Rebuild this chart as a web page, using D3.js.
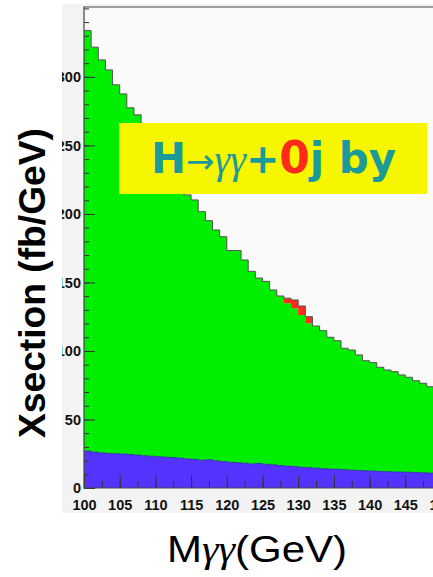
<!DOCTYPE html>
<html>
<head>
<meta charset="utf-8">
<script src="https://cdn.jsdelivr.net/npm/d3@7"></script>
<style>
  html, body { margin: 0; padding: 0; background: #fff; }
  svg { display: block; }
</style>
</head>
<body>
<div id="chart-container"></div>
<script>
// bin lower edges (GeV), 1 GeV bins
const massBins = [100, 101, 102, 103, 104, 105, 106, 107, 108, 109,
  110, 111, 112, 113, 114, 115, 116, 117, 118, 119,
  120, 121, 122, 123, 124, 125, 126, 127, 128, 129,
  130, 131, 132, 133, 134, 135, 136, 137, 138, 139,
  140, 141, 142, 143, 144, 145, 146, 147, 148, 149];

// green: total background (fb/GeV)
const bkgTotal = [333.8, 321.7, 312.4, 305.1, 294.2, 287.6, 277.4, 272.3, 262, 254,
  247, 238, 229, 221, 213.9, 210.2, 201.7, 195.1, 188.3, 183.4,
  173.3, 173.3, 166.4, 158.1, 153.2, 150.8, 144.5, 140.1, 134.8, 131.1,
  126.3, 120.2, 118.2, 114.8, 110, 107.5, 102, 100.7, 97.1, 92.9,
  91.5, 88.1, 86.1, 84.9, 82.5, 80.8, 78.3, 76.4, 73.9, 72.5];

// blue: lower background component
const bkgBlue = [27.0, 26.2, 25.6, 25.2, 25.0, 24.8, 24.5, 24.0, 23.5, 23.2,
  22.8, 22.5, 22.2, 21.8, 21.2, 20.9, 20.3, 20.6, 19.8, 19.3,
  18.8, 18.5, 18.1, 17.6, 17.8, 17.3, 16.9, 16.4, 16.0, 15.6,
  15.1, 14.8, 14.5, 14.1, 13.8, 13.6, 13.3, 13.0, 12.7, 12.5,
  12.4, 12.1, 11.9, 11.7, 11.6, 11.5, 11.3, 11.1, 10.9, 10.7];

// red: signal on top of background
const signal = [0, 0, 0, 0, 0, 0, 0, 0, 0, 0,
  0, 0, 0, 0, 0, 0, 0, 0, 0, 0,
  0, 0, 0, 0, 0, 0, 0, 0, 3.7, 6.1,
  6.5, 4.8, 0, 0, 0, 0, 0, 0, 0, 0,
  0, 0, 0, 0, 0, 0, 0, 0, 0, 0];

const xTickValues = [100, 105, 110, 115, 120, 125, 130, 135, 140, 145, 150];
const xTickLabels = ["100", "105", "110", "115", "120", "125", "130", "135", "140", "145", "150"];
const yTickValues = [0, 50, 100, 150, 200, 250, 300];
const yTickLabels = ["0", "50", "100", "150", "200", "250", "300"];

const W = 433, H = 577;
const plot = { left: 84, right: 441, top: 7, bottom: 488 };

const x = d3.scaleLinear().domain([100, 150]).range([plot.left, plot.right]);
const y = d3.scaleLinear().domain([0, 351]).range([plot.bottom, plot.top]);

const svg = d3.select("#chart-container")
  .append("svg")
  .attr("width", W)
  .attr("height", H)
  .style("font-family", "'Liberation Sans', Arial, sans-serif");

const defs = svg.append("defs");
defs.append("clipPath").attr("id", "plotClip")
  .append("rect")
  .attr("x", plot.left).attr("y", plot.top)
  .attr("width", plot.right - plot.left).attr("height", plot.bottom - plot.top);
defs.append("clipPath").attr("id", "labelClip")
  .append("rect")
  .attr("x", 62).attr("y", 0)
  .attr("width", W).attr("height", H);

// canvas background
svg.append("rect")
  .attr("x", 62).attr("y", 4)
  .attr("width", W - 62).attr("height", 509)
  .attr("fill", "#f3f3f3");
svg.append("rect")
  .attr("x", plot.left).attr("y", plot.top)
  .attr("width", plot.right - plot.left).attr("height", plot.bottom - plot.top)
  .attr("fill", "#fafafa");

// step points: one per bin plus closing edge at 150
const pts = massBins.map((m, i) => ({
  m: m,
  green: bkgTotal[i],
  total: bkgTotal[i] + signal[i],
  blue: bkgBlue[i]
}));
const last = pts[pts.length - 1];
pts.push({ m: 150, green: last.green, total: last.total, blue: last.blue });

const hist = svg.append("g").attr("clip-path", "url(#plotClip)");

hist.append("path")
  .datum(pts)
  .attr("fill", "#00ee00")
  .attr("d", d3.area().curve(d3.curveStepAfter)
    .x(d => x(d.m)).y0(y(0)).y1(d => y(d.green)));

hist.append("path")
  .datum(pts)
  .attr("fill", "#ff2a1a")
  .attr("d", d3.area().curve(d3.curveStepAfter)
    .x(d => x(d.m)).y0(d => y(d.green)).y1(d => y(d.total)));

hist.append("path")
  .datum(pts)
  .attr("fill", "none")
  .attr("stroke", "#555")
  .attr("stroke-width", 1)
  .attr("d", d3.line().curve(d3.curveStepAfter)
    .x(d => x(d.m)).y(d => y(d.total)));

hist.append("path")
  .datum(pts)
  .attr("fill", "#5533ff")
  .attr("d", d3.area().curve(d3.curveStepAfter)
    .x(d => x(d.m)).y0(y(0)).y1(d => y(d.blue)));

hist.append("path")
  .datum(pts)
  .attr("fill", "none")
  .attr("stroke", "#3a2bb0")
  .attr("stroke-width", 0.8)
  .attr("d", d3.line().curve(d3.curveStepAfter)
    .x(d => x(d.m)).y(d => y(d.blue)));

// axes
const yWrap = svg.append("g").attr("clip-path", "url(#labelClip)");

const yMinor = yWrap.append("g")
  .attr("transform", `translate(${plot.left},0)`)
  .call(d3.axisLeft(y).tickValues(d3.range(0, 351, 10)).tickSize(-5).tickFormat(""));

const yAxis = yWrap.append("g")
  .attr("transform", `translate(${plot.left},0)`)
  .call(d3.axisLeft(y).tickValues(yTickValues).tickSize(-11).tickPadding(3)
    .tickFormat((d, i) => yTickLabels[i]));

const xMinor = svg.append("g")
  .attr("transform", `translate(0,${plot.bottom})`)
  .call(d3.axisBottom(x).tickValues(d3.range(100, 150.1, 2.5)).tickSize(-7).tickFormat(""));

const xAxis = svg.append("g")
  .attr("transform", `translate(0,${plot.bottom})`)
  .call(d3.axisBottom(x).tickValues(xTickValues).tickSize(-13).tickPadding(12)
    .tickFormat((d, i) => xTickLabels[i]));

svg.selectAll(".domain").remove();
svg.selectAll(".tick line").attr("stroke", "#333");
svg.selectAll(".tick text")
  .attr("fill", "#111")
  .style("font-size", "14.5px")
  .style("font-weight", "bold")
  .style("font-family", "'Liberation Sans', Arial, sans-serif");

// frame
svg.append("path")
  .attr("fill", "none")
  .attr("stroke", "#444")
  .attr("stroke-width", 1.2)
  .attr("d", `M${plot.right},${plot.top}H${plot.left}V${plot.bottom}H${plot.right}`);

// label box
svg.append("rect")
  .attr("x", 119).attr("y", 123)
  .attr("width", 308).attr("height", 71)
  .attr("fill", "#f6f600");

const label = svg.append("text")
  .attr("x", 151)
  .attr("y", 173)
  .attr("textLength", 245)
  .attr("lengthAdjust", "spacingAndGlyphs")
  .attr("fill", "#1b9a9a")
  .style("font-family", "'DejaVu Sans', sans-serif")
  .style("font-weight", "bold");
label.append("tspan").style("font-size", "42px").text("H");
label.append("tspan").style("font-size", "34px").style("font-weight", "normal")
  .style("font-family", "'DejaVu Sans', sans-serif").text("→");
label.append("tspan").style("font-size", "40px").style("font-weight", "normal")
  .style("font-family", "'Liberation Serif', serif").style("font-style", "italic").text("γγ");
label.append("tspan").style("font-size", "40px").text("+");
label.append("tspan").style("font-size", "44px").attr("fill", "#ff2a1a").text("0");
label.append("tspan").style("font-size", "42px").text("j by");

// axis titles
svg.append("text")
  .attr("transform", "translate(45,283) rotate(-90)")
  .attr("text-anchor", "middle")
  .attr("textLength", 310)
  .attr("lengthAdjust", "spacingAndGlyphs")
  .attr("fill", "#000")
  .style("font-size", "37px")
  .style("font-weight", "bold")
  .text("Xsection (fb/GeV)");

const xTitle = svg.append("text")
  .attr("x", 167)
  .attr("y", 562)
  .attr("textLength", 180)
  .attr("lengthAdjust", "spacingAndGlyphs")
  .attr("fill", "#000")
  .style("font-size", "37px");
xTitle.append("tspan").text("M");
xTitle.append("tspan").style("font-family", "'Liberation Serif', serif")
  .style("font-style", "italic").text("γγ");
xTitle.append("tspan").text("(GeV)");
</script>
</body>
</html>
